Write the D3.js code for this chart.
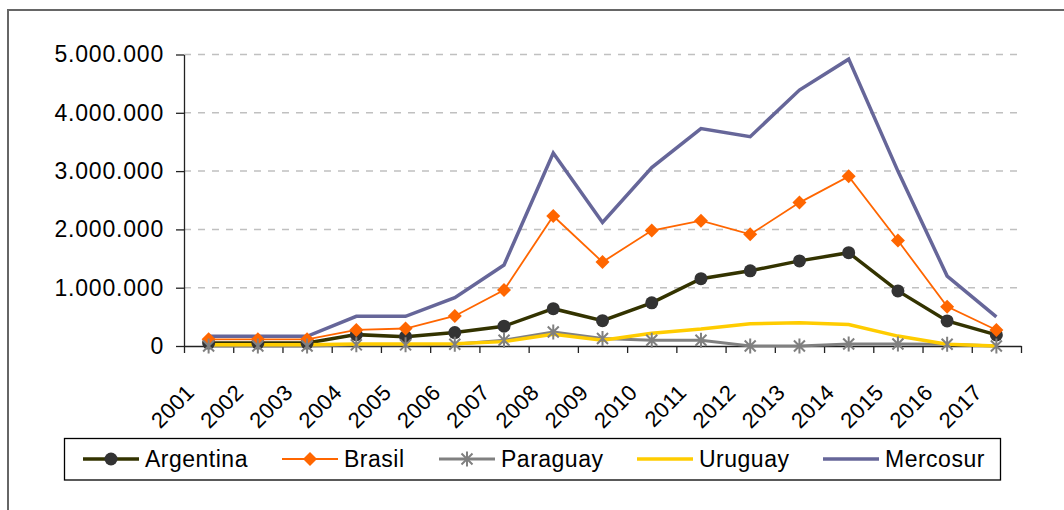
<!DOCTYPE html>
<html>
<head>
<meta charset="utf-8">
<script src="https://cdn.jsdelivr.net/npm/d3@7"></script>
<style>
  body { margin: 0; background: #fff; }
  svg text { font-family: "Liberation Sans", Arial, sans-serif; fill: #000; }
</style>
</head>
<body>
<div id="chart"></div>
<script>
// data
const years = ['2001','2002','2003','2004','2005','2006','2007','2008','2009','2010','2011','2012','2013','2014','2015','2016','2017'];
const argentina = [50000, 50000, 50000, 195000, 160000, 230000, 340000, 640000, 435000, 740000, 1155000, 1290000, 1460000, 1600000, 945000, 430000, 190000];
const brasil = [115000, 115000, 115000, 275000, 300000, 515000, 960000, 2230000, 1440000, 1980000, 2150000, 1915000, 2460000, 2910000, 1810000, 675000, 275000];
const paraguay = [0, 0, 0, 20000, 20000, 30000, 100000, 240000, 130000, 100000, 100000, 0, 0, 35000, 35000, 30000, 0];
const uruguay = [20000, 20000, 20000, 35000, 35000, 40000, 75000, 200000, 100000, 220000, 290000, 380000, 400000, 370000, 170000, 30000, 0];
const mercosur = [166000, 166000, 166000, 510000, 510000, 830000, 1390000, 3310000, 2120000, 3060000, 3730000, 3590000, 4390000, 4920000, 3000000, 1200000, 500000];
const yTicks = [0, 1000000, 2000000, 3000000, 4000000, 5000000];

const series = [
  {name: 'Argentina', values: argentina, color: '#333300', width: 3.5, marker: 'circle', mfill: '#333333'},
  {name: 'Brasil', values: brasil, color: '#FF6600', width: 1.8, marker: 'diamond', mfill: '#FF6600'},
  {name: 'Paraguay', values: paraguay, color: '#808080', width: 3, marker: 'star', mfill: '#808080'},
  {name: 'Uruguay', values: uruguay, color: '#FFCC00', width: 3.5, marker: null},
  {name: 'Mercosur', values: mercosur, color: '#666699', width: 3.5, marker: null}
];

const W = 1064, H = 510;
const plotLeft = 184, plotRight = 1021, plotTop = 54.5, plotBottom = 346;

const svg = d3.select('#chart').append('svg')
  .attr('width', W)
  .attr('height', H);

// outer frame (only top and left visible)
svg.append('path')
  .attr('d', 'M8,' + H + 'V10H' + W)
  .attr('fill', 'none')
  .attr('stroke', '#666')
  .attr('stroke-width', 2);

const xScale = d3.scaleBand().domain(years).range([plotLeft, plotRight]);
const yScale = d3.scaleLinear().domain([0, 5000000]).range([plotBottom, plotTop]);
const cx = d => xScale(d) + xScale.bandwidth() / 2;

const fmt = d3.formatLocale({decimal: ',', thousands: '.', grouping: [3], currency: ['', '']}).format(',');

// gridlines
svg.append('g')
  .selectAll('line')
  .data(yTicks.filter(d => d > 0))
  .join('line')
  .attr('x1', plotLeft).attr('x2', plotRight)
  .attr('y1', d => yScale(d)).attr('y2', d => yScale(d))
  .attr('stroke', '#c0c0c0')
  .attr('stroke-width', 1.5)
  .attr('stroke-dasharray', '7,7');

// y axis
const yAxisGroup = svg.append('g')
  .attr('class', 'axis y-axis')
  .attr('transform', 'translate(' + plotLeft + ',0)')
  .call(d3.axisLeft(yScale).tickValues(yTicks).tickFormat(fmt).tickSize(8).tickPadding(12).tickSizeOuter(0));
yAxisGroup.selectAll('text')
  .style('font-size', '23px')
  .style('letter-spacing', '0.8px')
  .style('font-family', '"Liberation Sans", Arial, sans-serif');
yAxisGroup.selectAll('line, path').attr('stroke', '#222').attr('stroke-width', 1.3);

// x axis, ticks on band edges
const edgeScale = d3.scaleLinear().domain([0, years.length]).range([plotLeft, plotRight]);
const xAxisGroup = svg.append('g')
  .attr('class', 'axis x-axis')
  .attr('transform', 'translate(0,' + plotBottom + ')')
  .call(d3.axisBottom(edgeScale).tickValues(d3.range(years.length + 1)).tickFormat('').tickSize(7).tickSizeOuter(0));
xAxisGroup.selectAll('line, path').attr('stroke', '#222').attr('stroke-width', 1.3);

svg.append('g')
  .selectAll('text')
  .data(years)
  .join('text')
  .attr('transform', d => 'translate(' + (cx(d) - 13) + ',' + (plotBottom + 48) + ') rotate(-45)')
  .attr('text-anchor', 'end')
  .style('font-size', '22px')
  .style('letter-spacing', '0.3px')
  .text(d => d);

// lines
const line = d3.line().x((d, i) => cx(years[i])).y(d => yScale(d));
series.forEach(s => {
  svg.append('path')
    .datum(s.values)
    .attr('fill', 'none')
    .attr('stroke', s.color)
    .attr('stroke-width', s.width)
    .attr('stroke-linejoin', 'miter')
    .attr('d', line);
});

function drawMarker(g, type, color, fill) {
  if (type === 'circle') {
    g.append('circle').attr('r', 6.5).attr('fill', fill);
  } else if (type === 'diamond') {
    g.append('path').attr('d', 'M0,-7L7,0L0,7L-7,0Z').attr('fill', fill);
  } else if (type === 'star') {
    g.append('path').attr('d', 'M-5.5,-5.5L5.5,5.5M-5.5,5.5L5.5,-5.5M0,-7.5V7.5')
      .attr('stroke', color).attr('stroke-width', 2).attr('fill', 'none');
  }
}

// markers
series.filter(s => s.marker).forEach(s => {
  s.values.forEach((v, i) => {
    const g = svg.append('g').attr('transform', 'translate(' + cx(years[i]) + ',' + yScale(v) + ')');
    drawMarker(g, s.marker, s.color, s.mfill);
  });
});

// legend
const legend = svg.append('g');
legend.append('rect')
  .attr('x', 64.5).attr('y', 438.5)
  .attr('width', 936).attr('height', 41.5)
  .attr('fill', '#fff')
  .attr('stroke', '#000')
  .attr('stroke-width', 1.3);

const legendX = [83, 282, 439, 637, 823];
series.forEach((s, i) => {
  const g = legend.append('g').attr('transform', 'translate(' + legendX[i] + ',459)');
  g.append('line')
    .attr('x1', 0).attr('x2', 56)
    .attr('stroke', s.color)
    .attr('stroke-width', s.width);
  if (s.marker) {
    const m = g.append('g').attr('transform', 'translate(28,0)');
    drawMarker(m, s.marker, s.color, s.mfill);
  }
  g.append('text')
    .attr('x', 62).attr('y', 8)
    .style('font-size', '23px')
    .style('letter-spacing', '0.5px')
    .text(s.name);
});
</script>
</body>
</html>
